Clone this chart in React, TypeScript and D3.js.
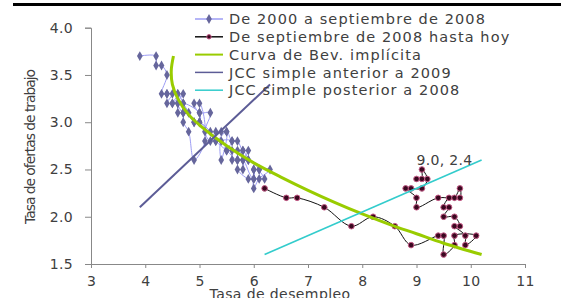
import React, { useEffect, useRef } from 'react';
import * as d3 from 'd3';

// Tasa de desempleo (x) / tasa de ofertas de trabajo (y)
const antesX = [3.9, 4.2, 4.2, 4.3, 4.4, 4.3, 4.4, 4.6, 4.7, 4.9, 5.0, 5.3, 5.5, 5.7, 5.7, 5.9, 5.8, 5.8, 5.7, 5.9, 6.0, 6.0, 6.0, 6.1, 6.2, 6.1, 6.3, 6.0, 5.8, 5.7, 5.6, 5.6, 5.5, 5.6, 5.4, 5.4, 5.5, 5.4, 5.3, 5.2, 5.1, 5.2, 5.0, 4.9, 5.0, 5.1, 4.9, 4.8, 4.7, 4.7, 4.6, 4.6, 4.5, 4.4, 4.5, 4.4, 4.6, 4.5, 4.7, 4.6, 4.7, 4.8, 4.7, 5.0, 5.0, 4.9, 5.0, 5.2, 5.3, 5.5, 5.6, 5.7, 5.8, 5.9, 5.8, 5.9, 6.1, 6.0];
const antesY = [3.7, 3.7, 3.6, 3.6, 3.5, 3.3, 3.3, 3.3, 3.2, 3.0, 3.0, 2.8, 2.7, 2.6, 2.7, 2.6, 2.7, 2.5, 2.5, 2.4, 2.4, 2.5, 2.3, 2.4, 2.4, 2.5, 2.5, 2.4, 2.6, 2.6, 2.6, 2.7, 2.7, 2.8, 2.8, 2.6, 2.9, 2.9, 2.9, 2.8, 2.9, 3.1, 3.1, 3.2, 3.2, 2.8, 2.6, 2.9, 3.0, 3.1, 3.1, 3.2, 3.2, 3.2, 3.3, 3.3, 3.3, 3.2, 3.3, 3.2, 3.1, 3.1, 3.2, 3.1, 3.0, 3.0, 3.0, 2.9, 2.8, 2.9, 2.8, 2.8, 2.7, 2.7, 2.6, 2.6, 2.5, 2.5];

const despuesX = [6.2, 6.6, 6.8, 7.3, 7.8, 8.2, 8.6, 8.9, 9.4, 9.5, 9.5, 9.7, 9.7, 10.1, 9.9, 9.9, 9.7, 9.8, 9.7, 9.5, 9.6, 9.5, 9.6, 9.7, 9.8, 9.8, 9.4, 9.0, 9.0, 8.8, 8.9, 9.1, 9.2, 9.1, 9.1, 9.0];
const despuesY = [2.3, 2.2, 2.2, 2.1, 1.9, 2.0, 1.9, 1.7, 1.8, 1.8, 1.6, 1.7, 1.8, 1.8, 1.7, 1.8, 1.9, 1.9, 2.0, 2.0, 2.1, 2.1, 2.2, 2.2, 2.3, 2.2, 2.2, 2.1, 2.2, 2.3, 2.3, 2.3, 2.4, 2.5, 2.4, 2.4];

const curvaX = [4.52, 4.48, 4.5, 4.6, 4.8, 5.0, 5.5, 6.0, 6.5, 7.0, 7.5, 8.0, 8.5, 9.0, 9.5, 10.2];
const curvaY = [3.7, 3.55, 3.4, 3.25, 3.08, 2.97, 2.75, 2.57, 2.42, 2.28, 2.15, 2.03, 1.92, 1.82, 1.72, 1.6];

const jccAntesX = [3.9, 6.3];
const jccAntesY = [2.1, 3.4];
const jccDespuesX = [6.2, 10.2];
const jccDespuesY = [1.6, 2.6];

const xTicks = [3, 4, 5, 6, 7, 8, 9, 10, 11];
const yTicks = [1.5, 2.0, 2.5, 3.0, 3.5, 4.0];

const legendLabels = [
  'De 2000 a septiembre de 2008',
  'De septiembre de 2008 hasta hoy',
  'Curva de Bev. implícita',
  'JCC simple anterior a 2009',
  'JCC simple posterior a 2008',
];
const lastLabel = '9.0, 2.4';

const font = '"DejaVu Sans", sans-serif';
const textColor = '#404040';

export default function App() {
  const svgRef = useRef<SVGSVGElement>(null);

  useEffect(() => {
    if (!svgRef.current) return;
    const svg = d3.select(svgRef.current);
    svg.selectAll('*').remove();

    const x = d3.scaleLinear().domain([3, 11]).range([91, 525]);
    const y = d3.scaleLinear().domain([1.5, 4]).range([264, 27.7]);

    // barra superior
    svg.append('rect').attr('x', 13).attr('y', 3).attr('width', 548).attr('height', 3).attr('fill', '#000');

    // ejes
    const gx = svg.append('g').attr('transform', `translate(0,${y(1.5)})`)
      .call(d3.axisBottom(x).tickValues(xTicks).tickSize(4).tickPadding(8).tickFormat(d3.format('d')));
    const gy = svg.append('g').attr('transform', `translate(${x(3)},0)`)
      .call(d3.axisLeft(y).tickValues(yTicks).tickSize(6).tickPadding(12).tickFormat(d3.format('.1f')));
    [gx, gy].forEach(g => {
      g.select('.domain').attr('stroke', '#888');
      g.selectAll('.tick line').attr('stroke', '#888');
      g.selectAll('.tick text').attr('fill', textColor).attr('font-family', font).attr('font-size', 14)
        .attr('letter-spacing', 0.3);
    });

    svg.append('text').attr('x', 280).attr('y', 299).attr('text-anchor', 'middle')
      .attr('font-family', font).attr('font-size', 14).attr('fill', textColor).attr('letter-spacing', 0.4)
      .text('Tasa de desempleo');
    svg.append('text').attr('transform', 'translate(35,147) rotate(-90)').attr('text-anchor', 'middle')
      .attr('font-family', font).attr('font-size', 14).attr('fill', textColor).attr('letter-spacing', -1.1)
      .text('Tasa de ofertas de trabajo');

    const smooth = d3.line<[number, number]>().x(d => x(d[0])).y(d => y(d[1])).curve(d3.curveCatmullRom);
    const straight = d3.line<[number, number]>().x(d => x(d[0])).y(d => y(d[1]));

    const antes = antesX.map((v, i) => [v, antesY[i]] as [number, number]);
    const despues = despuesX.map((v, i) => [v, despuesY[i]] as [number, number]);
    const curva = curvaX.map((v, i) => [v, curvaY[i]] as [number, number]);

    // 2000 - sep 2008
    svg.append('path').attr('d', smooth(antes)).attr('fill', 'none').attr('stroke', '#9c9cf5').attr('stroke-width', 1);
    const diamond = d3.symbol().type(d3.symbolDiamond).size(28);
    svg.append('g').selectAll('path').data(antes).enter().append('path')
      .attr('d', diamond())
      .attr('transform', d => `translate(${x(d[0])},${y(d[1])})`)
      .attr('fill', '#66669c');

    // sep 2008 - hoy
    svg.append('path').attr('d', smooth(despues)).attr('fill', 'none').attr('stroke', '#111').attr('stroke-width', 1);
    svg.append('g').selectAll('circle').data(despues).enter().append('circle')
      .attr('cx', d => x(d[0])).attr('cy', d => y(d[1])).attr('r', 2.8)
      .attr('fill', '#3a0820').attr('stroke', '#c45a86').attr('stroke-width', 1);

    // curva de Beveridge
    svg.append('path').attr('d', smooth(curva)).attr('fill', 'none').attr('stroke', '#99cc00').attr('stroke-width', 3);

    // JCC
    svg.append('path').attr('d', straight(jccAntesX.map((v, i) => [v, jccAntesY[i]] as [number, number])))
      .attr('fill', 'none').attr('stroke', '#5c5c96').attr('stroke-width', 2);
    svg.append('path').attr('d', straight(jccDespuesX.map((v, i) => [v, jccDespuesY[i]] as [number, number])))
      .attr('fill', 'none').attr('stroke', '#33cccc').attr('stroke-width', 1.6);

    const last = despues[despues.length - 1];
    svg.append('text').attr('x', x(last[0]) + 28).attr('y', y(last[1]) - 14).attr('text-anchor', 'middle')
      .attr('font-family', font).attr('font-size', 14).attr('fill', textColor).attr('letter-spacing', 0.3)
      .text(lastLabel);

    // leyenda
    const legColors = ['#9c9cf5', '#111', '#99cc00', '#5c5c96', '#33cccc'];
    const leg = svg.append('g');
    legendLabels.forEach((lab, i) => {
      const yy = 19 + i * 17.8;
      leg.append('line').attr('x1', 195).attr('x2', 223).attr('y1', yy).attr('y2', yy)
        .attr('stroke', legColors[i]).attr('stroke-width', i === 2 ? 2 : 1.5);
      if (i === 0) {
        leg.append('path').attr('d', diamond()).attr('transform', `translate(209,${yy})`).attr('fill', '#66669c');
      }
      if (i === 1) {
        leg.append('circle').attr('cx', 209).attr('cy', yy).attr('r', 2.2).attr('fill', '#3a0820').attr('stroke', '#c45a86');
      }
      leg.append('text').attr('x', 229).attr('y', yy).attr('dy', '0.36em')
        .attr('font-family', font).attr('font-size', 14.5).attr('fill', textColor).attr('letter-spacing', 1.1)
        .text(lab);
    });
  }, []);

  return (
    <svg ref={svgRef} width={561} height={298}
      style={{ position: 'absolute', left: 0, top: 0, background: '#fff', display: 'block' }} />
  );
}
